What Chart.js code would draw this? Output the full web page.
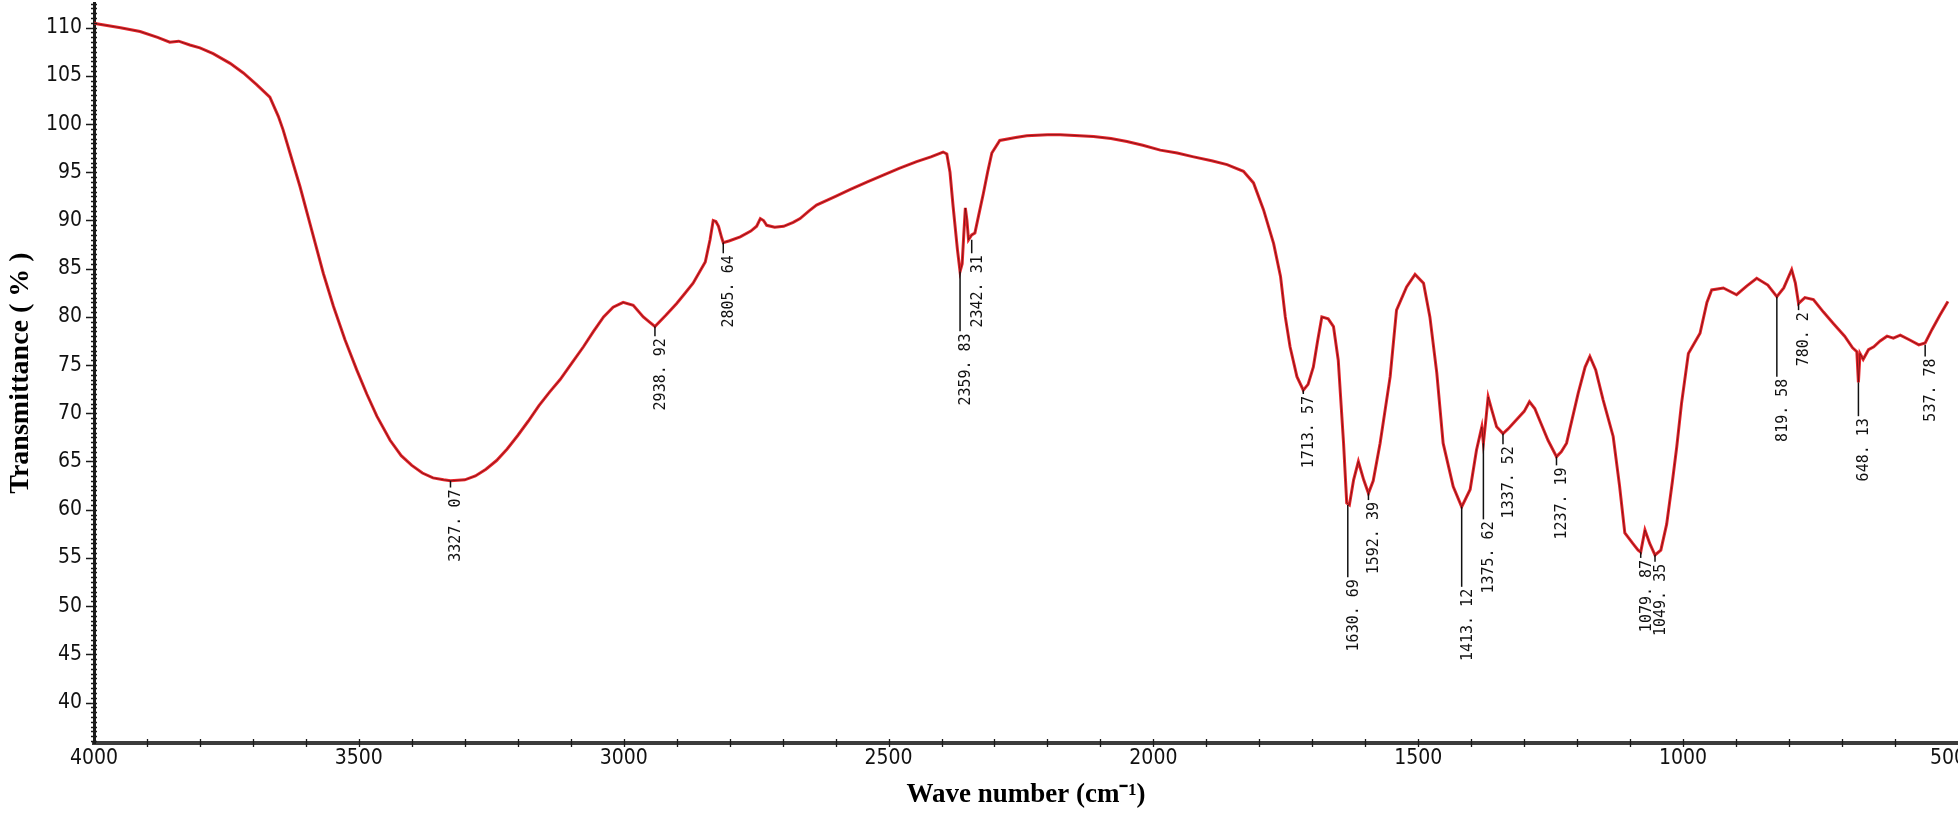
<!DOCTYPE html>
<html><head><meta charset="utf-8">
<script src="https://cdn.jsdelivr.net/npm/chart.js@4.4.1/dist/chart.umd.min.js"></script>
<style>html,body{margin:0;padding:0;background:#fff;}#wrap{width:1958px;height:818px;}</style>
</head><body><div id="wrap"><canvas id="c" width="1958" height="818"></canvas></div>
<script>
const wavenumbers = [4000,3995,3950,3913,3880,3857,3840,3819,3800,3775,3743,3718,3693,3668,3652,3643,3630,3611,3589,3567,3548,3526,3504,3485,3466,3441,3420,3400,3380,3360,3340,3327,3300,3280,3260,3240,3220,3200,3180,3160,3140,3120,3098,3076,3057,3038,3020,3001,2982,2963,2950,2941,2920,2900,2885,2869,2846,2837,2831,2826,2821,2815,2812,2800,2780,2760,2749,2742,2736,2730,2715,2698,2680,2667,2650,2636,2600,2573,2540,2510,2480,2447,2420,2397,2390,2384,2378,2370,2365,2361,2358,2355,2352,2349,2343,2337,2330,2321,2313,2305,2290,2260,2239,2200,2176,2140,2113,2080,2050,2020,1987,1955,1924,1890,1861,1830,1811,1792,1773,1760,1751,1742,1729,1717,1708,1698,1690,1682,1670,1660,1651,1641,1635,1630,1622,1613,1603,1594,1585,1572,1553,1541,1522,1506,1490,1478,1465,1453,1434,1418,1402,1390,1380,1377,1372,1368,1362,1352,1340,1330,1315,1300,1290,1280,1271,1255,1239,1230,1220,1198,1185,1176,1165,1151,1132,1120,1110,1095,1085,1080,1072,1063,1053,1042,1031,1020,1012,1003,990,968,955,946,924,899,880,861,840,823,810,795,788,782,770,754,735,716,695,680,672,669,666,660,650,640,628,615,603,590,572,555,543,530,515,500,484];
const transmittance = [110.5,110.4,110.0,109.6,109.0,108.5,108.6,108.2,107.9,107.3,106.3,105.3,104.1,102.8,100.8,99.4,97.0,93.5,89.0,84.5,81.1,77.6,74.5,72.0,69.7,67.2,65.6,64.6,63.8,63.3,63.1,63.0,63.1,63.5,64.2,65.1,66.3,67.7,69.2,70.8,72.2,73.5,75.2,76.9,78.5,80.0,81.0,81.5,81.2,80.0,79.4,79.0,80.2,81.4,82.4,83.5,85.7,88.0,90.0,89.9,89.4,88.2,87.7,87.9,88.3,88.9,89.4,90.2,90.0,89.5,89.3,89.4,89.8,90.2,91.0,91.6,92.5,93.2,94.0,94.7,95.4,96.1,96.6,97.1,96.9,95.0,91.4,87.0,84.7,85.5,88.5,91.3,90.0,88.0,88.5,88.7,90.5,92.8,95.0,97.0,98.3,98.6,98.8,98.9,98.9,98.8,98.7,98.5,98.2,97.8,97.3,97.0,96.6,96.2,95.8,95.1,93.9,91.1,87.6,84.2,80.0,76.9,73.8,72.4,73.0,74.8,77.5,80.0,79.8,79.0,75.5,66.9,60.7,60.5,63.1,65.0,63.1,61.7,63.0,66.9,73.8,80.7,83.1,84.4,83.5,80.0,74.2,66.9,62.4,60.3,62.1,66.2,68.6,66.9,69.5,71.7,70.5,68.6,67.9,68.4,69.3,70.2,71.2,70.5,69.3,67.2,65.5,66.0,66.9,72.1,74.8,75.9,74.5,71.4,67.6,62.5,57.6,56.5,55.8,55.6,57.9,56.5,55.3,55.8,58.5,63.0,66.5,71.0,76.2,78.3,81.5,82.8,83.0,82.3,83.2,84.0,83.3,82.1,83.0,84.9,83.5,81.4,82.0,81.8,80.5,79.3,78.0,76.8,76.4,73.2,76.2,75.6,76.6,76.9,77.5,78.0,77.8,78.1,77.6,77.1,77.3,78.7,80.2,81.6];
const xTickValues = [4000,3500,3000,2500,2000,1500,1000,500];
const yTickValues = [40,45,50,55,60,65,70,75,80,85,90,95,100,105,110];
const peakLabels = ["3327. 07","2938. 92","2805. 64","2359. 83","2342. 31","1713. 57","1630. 69","1592. 39","1413. 12","1375. 62","1337. 52","1237. 19","1079. 87","1049. 35","819. 58","780. 2","648. 13","537. 78"];
const peakPositions = [3327,2941,2812,2365,2343,1717,1633,1594,1418,1377,1340,1239,1080,1053,823,782,669,543];
const peakCurveT = [63.0,79.0,87.7,84.7,88.0,72.4,60.5,61.7,60.3,66.9,67.9,65.5,55.6,55.3,82.1,81.4,73.2,77.1];
const peakTextT = [62.3,78.0,86.6,78.5,86.6,72.0,53.0,61.0,52.0,59.0,66.8,64.6,55.0,54.6,73.8,80.7,69.7,75.9];

const points = wavenumbers.map((w, i) => ({x: w, y: transmittance[i]}));

const axisDecor = {
  id: 'axisDecor',
  afterDraw(chart) {
    const {ctx, scales: {x, y}, chartArea: a} = chart;
    ctx.save();
    ctx.strokeStyle = '#1a1a1a';
    ctx.lineWidth = 1.3;
    ctx.beginPath();
    for (let v = 36; v <= 112.5; v += 0.5) {
      const py = Math.round(y.getPixelForValue(v)) + 0.5;
      ctx.moveTo(a.left - 3, py); ctx.lineTo(a.left + 3, py);
    }
    yTickValues.forEach(v => {
      const py = Math.round(y.getPixelForValue(v)) + 0.5;
      ctx.moveTo(a.left - 8, py); ctx.lineTo(a.left + 2, py);
    });
    for (let v = 600; v <= 3900; v += 100) {
      const px = Math.round(x.getPixelForValue(v)) + 0.5;
      ctx.moveTo(px, a.bottom - 4); ctx.lineTo(px, a.bottom + 4);
    }
    ctx.stroke();
    ctx.restore();
  }
};

const annot = {
  id: 'annot',
  afterDatasetsDraw(chart) {
    const {ctx, scales: {x, y}} = chart;
    ctx.save();
    ctx.strokeStyle = '#111';
    ctx.fillStyle = '#111';
    ctx.lineWidth = 1.5;
    ctx.font = '15px "DejaVu Sans Mono", "Liberation Mono", monospace';
    peakPositions.forEach((w, i) => {
      const px = x.getPixelForValue(w);
      const y1 = y.getPixelForValue(peakCurveT[i]);
      const y2 = y.getPixelForValue(peakTextT[i]);
      ctx.beginPath(); ctx.moveTo(px, y1); ctx.lineTo(px, y2); ctx.stroke();
      ctx.save();
      ctx.translate(px + 6, y2 + 2);
      ctx.rotate(-Math.PI / 2);
      ctx.textAlign = 'right';
      ctx.textBaseline = 'middle';
      ctx.fillText(peakLabels[i], 0, 0);
      ctx.restore();
    });
    ctx.restore();
  }
};

const tickFont = {family: '"Liberation Sans Narrow", "DejaVu Sans Condensed", "Liberation Sans", Arial, sans-serif', size: 21};

new Chart(document.getElementById('c'), {
  type: 'line',
  data: {datasets: [
    {data: points, borderColor: 'rgba(70,10,10,0.75)', borderWidth: 0.8, pointRadius: 0, tension: 0, fill: false},
    {data: points, borderColor: '#e8262c', borderWidth: 3, pointRadius: 0, tension: 0, fill: false}
  ]},
  options: {
    responsive: false,
    animation: false,
    events: [],
    plugins: {legend: {display: false}, tooltip: {enabled: false}},
    layout: {padding: {top: 3, left: 0, right: 0, bottom: 0}},
    scales: {
      x: {
        type: 'linear', reverse: true, min: 481, max: 4000,
        afterBuildTicks: s => { s.ticks = xTickValues.map(v => ({value: v})); },
        afterFit: s => { s.height = 75; s.paddingLeft = 0; s.paddingRight = 0; },
        grid: {display: false, drawTicks: false},
        border: {display: true, color: '#3c3c3c', width: 4},
        ticks: {font: tickFont, color: '#111', padding: 3, maxRotation: 0, autoSkip: false,
          callback: v => String(v)},
        title: {display: true, text: 'Wave number (cm⁻¹)', color: '#000',
          font: {family: '"Liberation Serif", "Times New Roman", serif', size: 27, weight: 'bold'},
          padding: {top: 0, bottom: 7}}
      },
      y: {
        type: 'linear', min: 35.8, max: 112.56,
        afterBuildTicks: s => { s.ticks = yTickValues.map(v => ({value: v})); },
        afterFit: s => { s.width = 94; s.paddingTop = 0; s.paddingBottom = 0; },
        grid: {display: false, drawTicks: false},
        border: {display: true, color: '#1a1a1a', width: 3},
        ticks: {font: tickFont, color: '#111', padding: 12, autoSkip: false,
          callback: v => String(v)},
        title: {display: true, text: 'Transmittance ( % )', color: '#000',
          font: {family: '"Liberation Serif", "Times New Roman", serif', size: 28, weight: 'bold'},
          padding: {top: 4, bottom: 0}}
      }
    }
  },
  plugins: [axisDecor, annot]
});
</script></body></html>
